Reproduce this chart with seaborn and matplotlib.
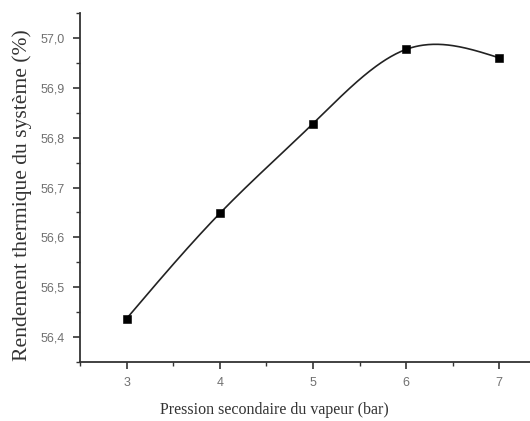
import numpy as np
import pandas as pd
import matplotlib
matplotlib.use("Agg")
import matplotlib.pyplot as plt
import seaborn as sns
from matplotlib.ticker import MultipleLocator, FuncFormatter

pression = [3, 4, 5, 6, 7]
rendement = [56.437, 56.648, 56.828, 56.977, 56.960]
x_ticks = [3, 4, 5, 6, 7]
y_ticks = [56.4, 56.5, 56.6, 56.7, 56.8, 56.9, 57.0]

df = pd.DataFrame({"p": pression, "r": rendement})


def natural_spline(x, y, xs):
    x = np.asarray(x, float); y = np.asarray(y, float)
    n = len(x)
    h = np.diff(x)
    A = np.zeros((n, n)); b = np.zeros(n)
    A[0, 0] = 1; A[-1, -1] = 1
    for i in range(1, n - 1):
        A[i, i - 1] = h[i - 1]; A[i, i] = 2 * (h[i - 1] + h[i]); A[i, i + 1] = h[i]
        b[i] = 3 * ((y[i + 1] - y[i]) / h[i] - (y[i] - y[i - 1]) / h[i - 1])
    c = np.linalg.solve(A, b)
    out = np.empty_like(xs)
    for k, xv in enumerate(xs):
        i = min(max(np.searchsorted(x, xv) - 1, 0), n - 2)
        dx = xv - x[i]
        bb = (y[i + 1] - y[i]) / h[i] - h[i] * (2 * c[i] + c[i + 1]) / 3
        d = (c[i + 1] - c[i]) / (3 * h[i])
        out[k] = y[i] + bb * dx + c[i] * dx ** 2 + d * dx ** 3
    return out


xs = np.linspace(min(pression), max(pression), 300)
curve = pd.DataFrame({"p": xs, "r": natural_spline(pression, rendement, xs)})

sns.set_style("white")
fig = plt.figure(figsize=(5.30, 4.21), dpi=100)
ax = fig.add_axes([80 / 530, (421 - 362) / 421, 450 / 530, (362 - 13) / 421])

sns.lineplot(data=curve, x="p", y="r", ax=ax, color="#222222", linewidth=1.2)
sns.scatterplot(data=df, x="p", y="r", ax=ax, marker="s", color="black", s=28,
                edgecolor="black", zorder=5)

ax.set_xlim(2.5, 7.33)
ax.set_ylim(56.35, 57.05)
ax.set_xticks(x_ticks)
ax.set_yticks(y_ticks)
ax.xaxis.set_minor_locator(MultipleLocator(0.5))
ax.yaxis.set_minor_locator(MultipleLocator(0.05))
ax.yaxis.set_major_formatter(FuncFormatter(lambda v, p: f"{v:.1f}".replace(".", ",")))
ax.xaxis.set_major_formatter(FuncFormatter(lambda v, p: f"{v:.0f}"))

for s in ["top", "right"]:
    ax.spines[s].set_visible(False)
for s in ["left", "bottom"]:
    ax.spines[s].set_color("#333333")
    ax.spines[s].set_linewidth(1.3)

ax.tick_params(axis="both", which="major", direction="out", length=5, width=1.2,
               color="#333333", labelsize=9, labelcolor="#707070", left=True, bottom=True, pad=6)
ax.tick_params(axis="both", which="minor", direction="out", length=3, width=1.0,
               color="#333333", left=True, bottom=True)
for lab in ax.get_xticklabels() + ax.get_yticklabels():
    lab.set_family("Liberation Sans")

ax.set_xlabel("Pression secondaire du vapeur (bar)", family="Liberation Serif",
              fontsize=11.5, color="#333333")
ax.set_ylabel("Rendement thermique du système (%)", family="Liberation Serif",
              fontsize=15.6, color="#333333")
ax.xaxis.set_label_coords(0.433, -0.115)
ax.yaxis.set_label_coords(-0.106, 0.478)

fig.savefig("out.png", dpi=100)
